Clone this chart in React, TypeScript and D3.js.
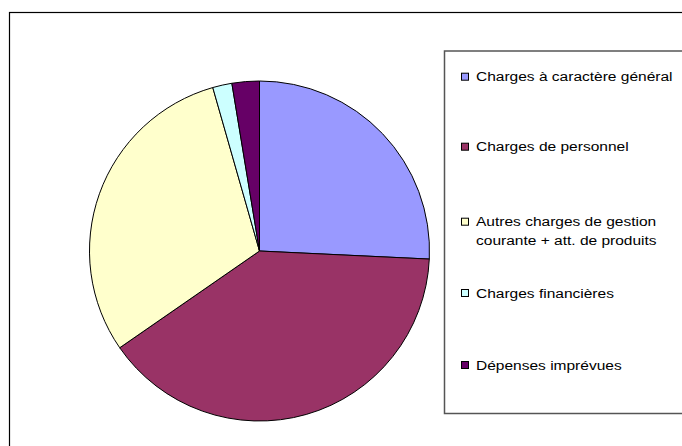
import React from "react";
import * as d3 from "d3";

const categories = [
  "Charges à caractère général",
  "Charges de personnel",
  "Autres charges de gestion courante + att. de produits",
  "Charges financières",
  "Dépenses imprévues",
];
const legendLines = [
  ["Charges à caractère général"],
  ["Charges de personnel"],
  ["Autres charges de gestion", "courante + att. de produits"],
  ["Charges financières"],
  ["Dépenses imprévues"],
];
const values = [25.75, 39.6, 30.2, 1.83, 2.6];
const colors = ["#9999FF", "#993366", "#FFFFCC", "#CCFFFF", "#660066"];

const W = 682;
const H = 446;
const cx = 259.5;
const cy = 251;
const R = 170;
const legendY = [76.7, 146.7, 221.7, 293, 365];

export default function App() {
  const pie = d3
    .pie<number>()
    .sort(null)
    .value((d) => d)
    .startAngle(0)
    .endAngle(2 * Math.PI);
  const arcs = pie(values);
  const arc = d3.arc<d3.PieArcDatum<number>>().innerRadius(0).outerRadius(R);

  return (
    <svg
      width={W}
      height={H}
      style={{ position: "absolute", left: 0, top: 0, background: "#fff" }}
      fontFamily="'Liberation Sans', Arial, sans-serif"
    >
      <rect x={0} y={0} width={W} height={H} fill="#fff" />
      <rect x={9.5} y={12.5} width={W + 20} height={H + 20} fill="none" stroke="#000" strokeWidth={1.2} />
      <g transform={`translate(${cx},${cy})`}>
        {arcs.map((a, i) => (
          <path key={categories[i]} d={arc(a) || ""} fill={colors[i]} stroke="#000" strokeWidth={1} strokeLinejoin="round" />
        ))}
      </g>
      <rect x={444.5} y={51} width={260} height={362.5} fill="#fff" stroke="#555" strokeWidth={1.5} />
      {legendLines.map((lines, i) => (
        <g key={categories[i]}>
          <rect x={461.5} y={legendY[i] - 3.5} width={7} height={7} fill={colors[i]} stroke="#000" strokeWidth={1} />
          {lines.map((ln, j) => (
            <text
              key={j}
              transform={`translate(476,${legendY[i] + 4.5 + j * 18.5}) scale(1.15,1)`}
              fontSize={13.5}
              fill="#000"
            >
              {ln}
            </text>
          ))}
        </g>
      ))}
    </svg>
  );
}
